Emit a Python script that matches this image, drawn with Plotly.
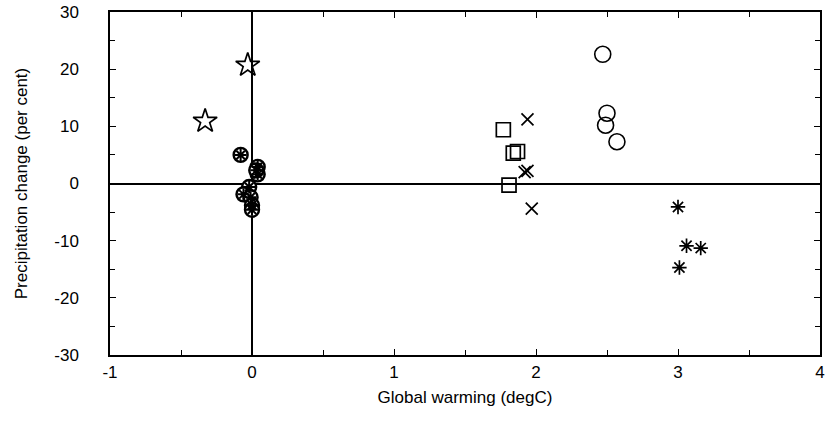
import plotly.graph_objects as go

# Data
star_x = [-0.03, -0.33]
star_y = [20.7, 10.9]

cluster_x = [-0.08, 0.04, 0.04, 0.03, -0.02, -0.06, -0.01, 0.0, 0.0]
cluster_y = [5.0, 2.9, 1.6, 2.3, -0.6, -1.9, -2.4, -3.8, -4.6]

square_x = [1.77, 1.84, 1.87, 1.81]
square_y = [9.4, 5.3, 5.6, -0.3]

cross_x = [1.94, 1.92, 1.94, 1.97]
cross_y = [11.2, 2.0, 2.2, -4.4]

circle_x = [2.47, 2.50, 2.49, 2.57]
circle_y = [22.6, 12.3, 10.2, 7.3]

aster_x = [3.00, 3.06, 3.16, 3.01]
aster_y = [-4.1, -10.9, -11.3, -14.7]

x_ticks = [-1, 0, 1, 2, 3, 4]
x_tick_text = ["-1", "0", "1", "2", "3", "4"]
y_ticks = [-30, -20, -10, 0, 10, 20, 30]
y_tick_text = ["-30", "-20", "-10", "0", "10", "20", "30"]

FONT = "Liberation Sans, Arial, sans-serif"

fig = go.Figure()

def add(x, y, symbol, size, width=1.5):
    fig.add_trace(go.Scatter(
        x=x, y=y, mode="markers",
        marker=dict(symbol=symbol, size=size, color="black",
                    line=dict(color="black", width=width)),
        showlegend=False, hoverinfo="skip", cliponaxis=False))

add(star_x, star_y, "star-open", 18, 1.7)
fig.add_trace(go.Scatter(
    x=cluster_x, y=cluster_y, mode="markers",
    marker=dict(symbol="circle", size=14, color="white",
                line=dict(color="black", width=2.4)),
    showlegend=False, hoverinfo="skip"))
fig.add_trace(go.Scatter(
    x=cluster_x, y=cluster_y, mode="markers",
    marker=dict(symbol="asterisk-open", size=10, color="black",
                line=dict(color="black", width=2)),
    showlegend=False, hoverinfo="skip"))
add(square_x, square_y, "square-open", 14, 1.7)
add(cross_x, cross_y, "x-thin-open", 12, 1.7)
add(circle_x, circle_y, "circle-open", 16, 1.6)
add(aster_x, aster_y, "asterisk-open", 12, 1.7)

axis_common = dict(
    showline=True, linecolor="black", linewidth=1.5, mirror="allticks",
    ticks="inside", ticklen=6, tickwidth=1, tickcolor="black",
    showgrid=False, zeroline=True, zerolinecolor="black", zerolinewidth=1.5,
    automargin=False, ticklabeloverflow="allow",
    tickfont=dict(family=FONT, size=17, color="black"),
)

fig.update_xaxes(
    range=[-1, 4], tickvals=x_ticks, ticktext=x_tick_text,
    minor=dict(ticks="inside", dtick=0.5, ticklen=5, tickcolor="black"),
    ticklabelstandoff=1,
    title=dict(text="Global warming (degC)", standoff=10,
               font=dict(family=FONT, size=17, color="black")),
    **axis_common)
fig.update_yaxes(
    range=[-30, 30], tickvals=y_ticks, ticktext=y_tick_text,
    minor=dict(ticks="inside", dtick=5, ticklen=5, tickcolor="black"),
    ticklabelstandoff=26,
    title=dict(text="Precipitation change (per cent)", standoff=22,
               font=dict(family=FONT, size=17, color="black")),
    **axis_common)

fig.update_layout(
    width=827, height=435,
    margin=dict(l=110, r=7, t=12, b=80),
    paper_bgcolor="white", plot_bgcolor="white",
)

# remove the default 8px page margin so the figure fills the window exactly
fig.write_html("out.html", config={"displayModeBar": False},
               post_script="document.body.style.margin='0';")
